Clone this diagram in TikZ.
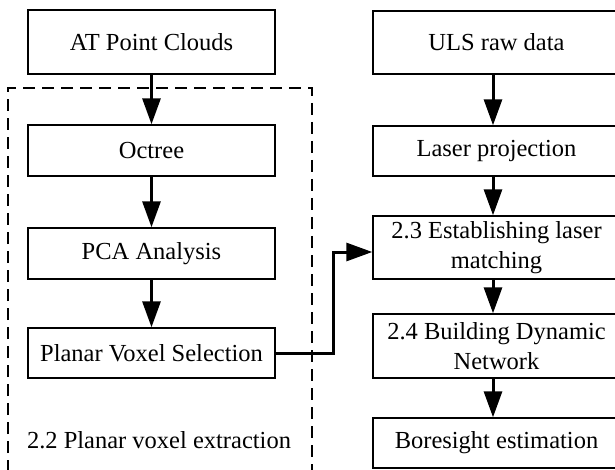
\documentclass[tikz,border=0pt]{standalone}
\usepackage{fontspec}
\setmainfont{Liberation Serif}
\usetikzlibrary{arrows.meta}
\begin{document}
\begin{tikzpicture}[x=1pt,y=1pt,
  box/.style={draw,line width=1.4pt,minimum width=247pt,inner sep=0pt,align=center,
    font=\fontsize{24.5}{29.5}\selectfont},
  flow/.style={line width=3pt,-{Triangle[width=18pt,length=26pt]}}]
\useasboundingbox (0,0) rectangle (615,-470);
% left column
\node[box,minimum height=64pt] (at) at (151.5,-42) {AT Point Clouds};
\node[box,minimum height=51pt] (oct) at (151.5,-150.5) {Octree};
\node[box,minimum height=51pt] (pca) at (151.5,-253.5) {PCA Analysis};
\node[box,minimum height=50pt] (pvs) at (151.5,-353) {Planar Voxel Selection};
% dashed group
\coordinate (dbl) at (8,-472);
\coordinate (dtl) at (8,-88);
\coordinate (dtr) at (312,-88);
\coordinate (dbr) at (312,-472);
\draw[line width=1.4pt,dash pattern=on 12pt off 7pt] (dbl) -- (dtl) -- (dtr) -- (dbr);
\node[font=\fontsize{24.5}{29.5}\selectfont,inner sep=0pt] (lbl) at (159,-440) {2.2 Planar voxel extraction};
% right column
\node[box,minimum height=63pt] (uls) at (496.5,-42.5) {ULS raw data};
\node[box,minimum height=50pt] (lp) at (496.5,-151) {Laser projection};
\node[box,minimum height=63pt] (est) at (496.5,-247.5) {2.3 Establishing laser\\matching};
\node[box,minimum height=64pt] (bdn) at (496.5,-346) {2.4 Building Dynamic\\Network};
\node[box,minimum height=50pt] (bor) at (496.5,-443) {Boresight estimation};
% arrows
\draw[flow] (at) -- (oct);
\draw[flow] (oct) -- (pca);
\draw[flow] (pca) -- (pvs);
\draw[flow] ([xshift=-3.5pt]uls.south) -- ([xshift=-3.5pt]lp.north);
\draw[flow] ([xshift=-3.5pt]lp.south) -- ([xshift=-3.5pt]est.north);
\draw[flow] ([xshift=-3.5pt]est.south) -- ([xshift=-3.5pt]bdn.north);
\draw[flow] ([xshift=-3.5pt]bdn.south) -- ([xshift=-3.5pt]bor.north);
\draw[flow] (pvs.east) -- ++(58,0) |- ([yshift=-4.5pt]est.west);
\end{tikzpicture}
\end{document}
